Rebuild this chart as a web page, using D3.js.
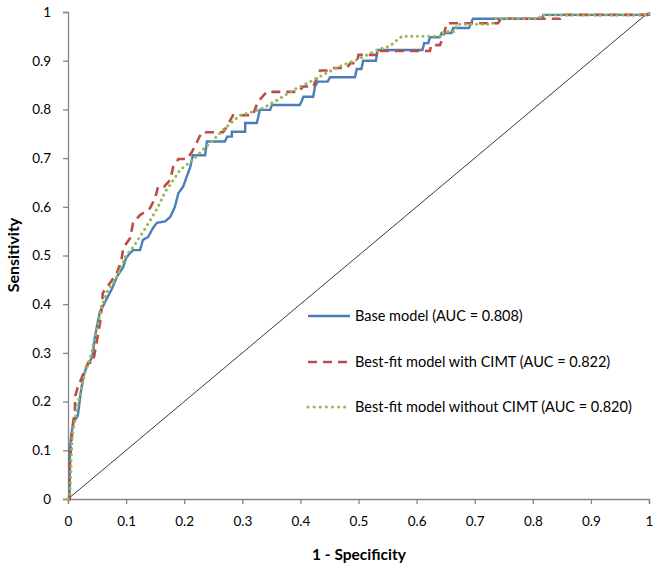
<!DOCTYPE html>
<html><head><meta charset="utf-8">
<script src="https://cdn.jsdelivr.net/npm/d3@7"></script>
<style>body{margin:0;background:#fff}svg{display:block}text{font-family:Lato,"Open Sans",sans-serif}</style>
</head><body><svg id="c" width="658" height="574"></svg>
<script>
const xTicks=[0,0.1,0.2,0.3,0.4,0.5,0.6,0.7,0.8,0.9,1];
const yTicks=[0,0.1,0.2,0.3,0.4,0.5,0.6,0.7,0.8,0.9,1];
const seriesNames=["Base model (AUC = 0.808)","Best-fit model with CIMT (AUC = 0.822)","Best-fit model without CIMT (AUC = 0.820)"];
const baseFpr=[0,0.003,0.003,0.006,0.009,0.017,0.021,0.026,0.032,0.041,0.043,0.046,0.049,0.055,0.06,0.066,0.075,0.084,0.095,0.1,0.107,0.112,0.124,0.129,0.138,0.146,0.153,0.167,0.176,0.184,0.19,0.198,0.204,0.21,0.215,0.236,0.239,0.27,0.274,0.282,0.282,0.305,0.305,0.325,0.327,0.33,0.348,0.351,0.399,0.403,0.405,0.422,0.425,0.43,0.447,0.451,0.494,0.497,0.505,0.508,0.53,0.533,0.61,0.613,0.62,0.623,0.64,0.643,0.66,0.663,0.69,0.697,0.816,0.818,1,1];
const baseTpr=[0,0,0.1,0.135,0.156,0.172,0.21,0.25,0.272,0.29,0.3,0.33,0.35,0.385,0.395,0.41,0.43,0.456,0.476,0.495,0.505,0.511,0.511,0.532,0.538,0.556,0.567,0.57,0.579,0.6,0.628,0.641,0.661,0.68,0.706,0.706,0.734,0.734,0.744,0.744,0.754,0.754,0.772,0.772,0.782,0.799,0.799,0.809,0.809,0.819,0.826,0.826,0.847,0.857,0.857,0.866,0.866,0.883,0.883,0.9,0.9,0.922,0.922,0.936,0.936,0.948,0.948,0.957,0.957,0.967,0.967,0.986,0.986,0.994,0.994,1];
const cimtFpr=[0,0.003,0.003,0.006,0.009,0.012,0.012,0.017,0.024,0.029,0.035,0.043,0.046,0.049,0.055,0.058,0.06,0.072,0.084,0.092,0.095,0.107,0.112,0.124,0.141,0.15,0.155,0.165,0.176,0.181,0.19,0.205,0.213,0.222,0.23,0.267,0.275,0.284,0.318,0.327,0.342,0.396,0.405,0.422,0.434,0.446,0.456,0.48,0.486,0.497,0.5,0.537,0.537,0.623,0.625,0.64,0.645,0.652,0.74,0.745,0.847,0.85,1,1];
const cimtTpr=[0,0,0.066,0.12,0.16,0.177,0.21,0.23,0.25,0.265,0.28,0.28,0.3,0.32,0.36,0.394,0.423,0.443,0.464,0.49,0.515,0.536,0.567,0.583,0.597,0.618,0.641,0.641,0.655,0.682,0.698,0.698,0.712,0.733,0.753,0.753,0.768,0.788,0.788,0.816,0.836,0.836,0.847,0.847,0.88,0.88,0.885,0.885,0.895,0.895,0.912,0.912,0.92,0.92,0.932,0.932,0.946,0.977,0.977,0.986,0.986,0.994,0.994,1];
const noCimtFpr=[0,0.003,0.005,0.006,0.008,0.012,0.017,0.024,0.029,0.035,0.041,0.046,0.052,0.058,0.066,0.084,0.1,0.112,0.129,0.144,0.155,0.167,0.178,0.193,0.215,0.232,0.25,0.267,0.296,0.318,0.336,0.36,0.388,0.422,0.445,0.473,0.497,0.52,0.537,0.554,0.566,0.575,0.643,0.647,0.665,0.67,0.73,0.735,0.81,0.815,1,1];
const noCimtTpr=[0,0.004,0.053,0.1,0.135,0.162,0.197,0.23,0.258,0.279,0.3,0.333,0.361,0.394,0.423,0.456,0.5,0.517,0.548,0.577,0.6,0.63,0.649,0.676,0.696,0.717,0.737,0.758,0.788,0.795,0.803,0.819,0.84,0.86,0.875,0.891,0.902,0.915,0.924,0.93,0.942,0.95,0.95,0.96,0.96,0.975,0.975,0.986,0.986,0.994,0.994,1];

const svg=d3.select("#c");
const x=d3.scaleLinear().domain([0,1]).range([68,649]);
const y=d3.scaleLinear().domain([0,1]).range([499,12]);
const axisColor="#868686";

const xa=svg.append("g").attr("transform","translate(0,499)")
  .call(d3.axisBottom(x).tickValues(xTicks).tickSize(5).tickPadding(12).tickFormat(d=>String(d)));
const ya=svg.append("g").attr("transform","translate(68,0)")
  .call(d3.axisLeft(y).tickValues(yTicks).tickSize(5).tickPadding(12).tickFormat(d=>String(d)));
[xa,ya].forEach(g=>{
  g.select(".domain").attr("stroke",axisColor).attr("stroke-width",1.3);
  g.selectAll(".tick line").attr("stroke",axisColor).attr("stroke-width",1.3);
  g.selectAll(".tick text").attr("fill","#000").attr("font-size",13.5).style("font-family","Lato");
});

svg.append("line").attr("x1",x(0)).attr("y1",y(0)).attr("x2",x(1)).attr("y2",y(1))
  .attr("stroke","#3a3a3a").attr("stroke-width",1);

const line=d3.line().x(d=>x(d[0])).y(d=>y(d[1]));
const styles=[
  {c:"#4a7ebb",w:2.4,dash:null,cap:"butt"},
  {c:"#be4b48",w:2.6,dash:"9,6",cap:"butt"},
  {c:"#98b954",w:3,dash:"0.1,5.5",cap:"round"}
];
const data=[d3.zip(baseFpr,baseTpr),d3.zip(cimtFpr,cimtTpr),d3.zip(noCimtFpr,noCimtTpr)];
data.forEach((d,i)=>{
  const p=svg.append("path").datum(d).attr("d",line).attr("fill","none")
    .attr("stroke",styles[i].c).attr("stroke-width",styles[i].w)
    .attr("stroke-linecap",styles[i].cap).attr("stroke-linejoin","miter");
  if(styles[i].dash)p.attr("stroke-dasharray",styles[i].dash);
});

const ly=[316,362,407];
seriesNames.forEach((n,i)=>{
  const l=svg.append("line").attr("x1",308).attr("x2",350).attr("y1",ly[i]).attr("y2",ly[i])
    .attr("stroke",styles[i].c).attr("stroke-width",styles[i].w).attr("stroke-linecap",styles[i].cap);
  if(styles[i].dash)l.attr("stroke-dasharray",i===1?"9,6":"0.1,6");
  svg.append("text").attr("x",355).attr("y",ly[i]).attr("dy","0.35em").attr("font-size",14.5).text(n);
});

svg.append("text").attr("x",359).attr("y",560).attr("text-anchor","middle")
  .attr("font-size",15.5).attr("font-weight","bold").text("1 - Specificity");
svg.append("text").attr("transform","translate(19,255) rotate(-90)").attr("text-anchor","middle")
  .attr("font-size",16).attr("font-weight","bold").text("Sensitivity");
</script></body></html>
